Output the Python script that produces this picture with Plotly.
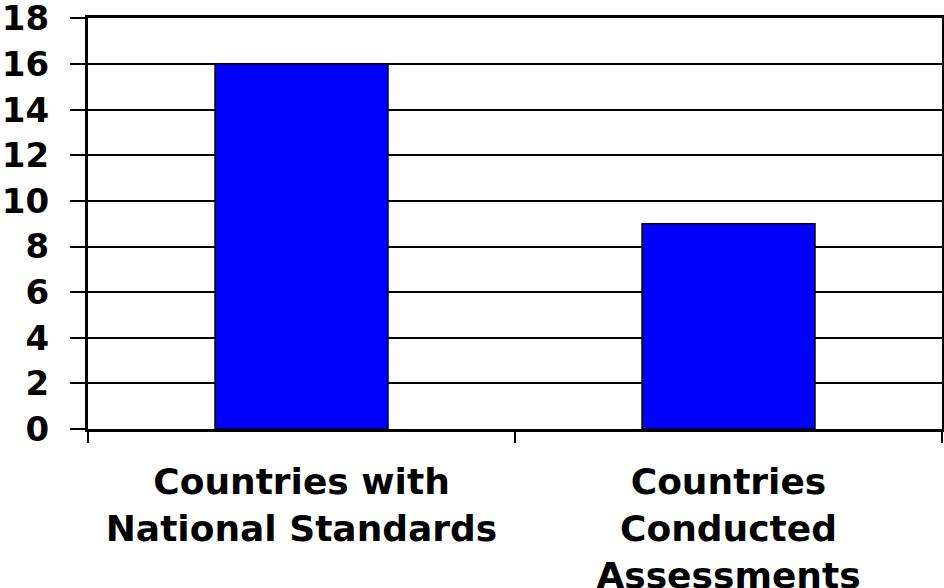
import plotly.graph_objects as go

categories = ["Countries with<br>National Standards", "Countries<br>Conducted<br>Assessments"]
values = [16, 9]
y_ticks = [0, 2, 4, 6, 8, 10, 12, 14, 16, 18]

FONT = "DejaVu Sans"

fig = go.Figure(go.Bar(
    x=categories, y=values,
    marker=dict(color="#0000FF", line=dict(color="black", width=1.5)),
))

fig.update_layout(
    width=944, height=588,
    margin=dict(l=88, r=2, t=18, b=159),
    paper_bgcolor="white", plot_bgcolor="white",
    bargap=0.595,
    showlegend=False,
    font=dict(family=FONT, size=34, color="black"),
)
fig.update_yaxes(
    range=[0, 18.02], tickvals=y_ticks, autorange=False, automargin=False,
    showgrid=True, gridcolor="black", gridwidth=2,
    showline=True, linecolor="black", linewidth=3, mirror=True,
    ticks="outside", ticklen=15, tickwidth=2, tickcolor="black",
    ticklabelstandoff=14, ticklabeloverflow="allow",
    tickfont=dict(family=FONT, size=34, color="black", weight="bold"),
    zeroline=False,
)
fig.update_xaxes(
    automargin=False,
    showline=True, linecolor="black", linewidth=3, mirror=True,
    ticks="outside", tickson="boundaries", ticklen=11, tickwidth=2, tickcolor="black",
    ticklabelstandoff=19, ticklabeloverflow="allow",
    tickfont=dict(family=FONT, size=36, color="black", weight="bold"),
    showgrid=False,
)

fig.write_html(
    "out.html",
    config={"displayModeBar": False},
    post_script="document.body.style.margin='0';document.body.style.overflow='hidden';",
)
